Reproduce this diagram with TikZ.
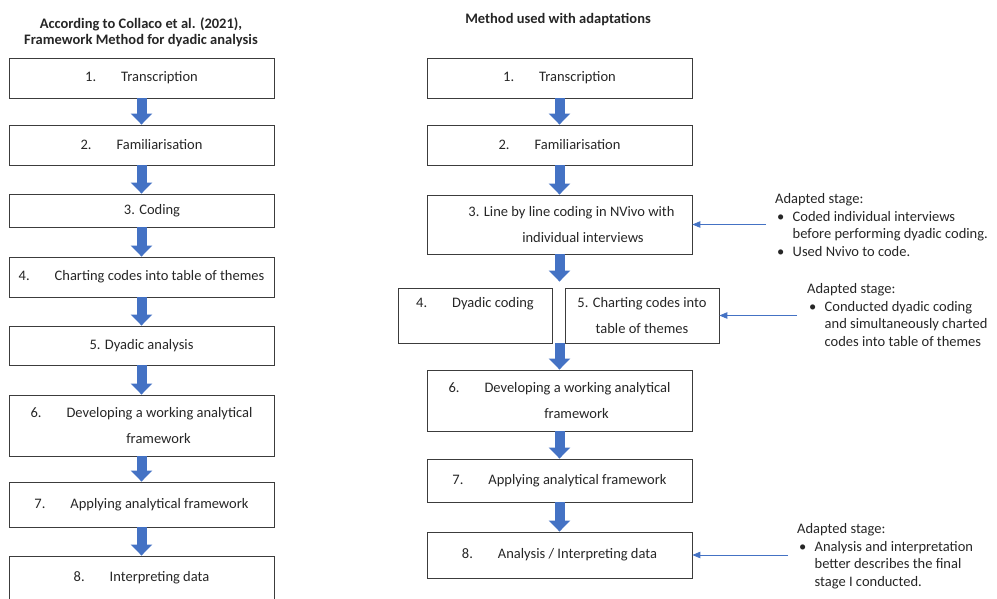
\documentclass[tikz,border=0pt]{standalone}
\usepackage{fontspec}
\setmainfont{Carlito}
\usetikzlibrary{arrows,arrows.meta}

\definecolor{stageblue}{RGB}{68,114,196}
\definecolor{boxgray}{RGB}{60,60,60}
\newcommand{\stagegap}{\hspace{25pt}}
\newcommand{\notebullet}{\hspace*{2pt}\makebox[15.5pt][l]{\textbullet}}
\newcommand{\noteindent}{\hspace*{17.5pt}}

\tikzset{
  stagebox/.style={draw=boxgray, line width=0.9pt, inner sep=0pt, align=center,
    minimum width=265pt, text=black!85, font=\fontsize{14.5}{25.5}\selectfont},
  flow/.style={stageblue, line width=10pt, -{Triangle[length=11pt,width=21pt]}},
  notelink/.style={stageblue, line width=0.8pt, ->},
  note/.style={anchor=north west, inner sep=0pt, align=left, text=black!85,
    font=\fontsize{14.5}{17.8}\selectfont},
  heading/.style={inner sep=0pt, align=center, text=black!85,
    font=\bfseries\fontsize{14.5}{16}\selectfont}
}

\begin{document}
\begin{tikzpicture}[x=1pt,y=-1pt,>=triangle 45]
    \clip (0,0) rectangle (997,598);
    \useasboundingbox (0,0) rectangle (997,598);

    % titles
    \node[heading] (titleL) at (141,32) {According to Collaco et al. (2021),\\Framework Method for dyadic analysis};
    \node[heading] (titleR) at (558,20) {Method used with adaptations};

    % original framework
    \node[stagebox, minimum height=40pt] (L1) at (141.5,78) {1.\stagegap Transcription};
    \node[stagebox, minimum height=40pt] (L2) at (141.5,145) {2.\stagegap Familiarisation};
    \node[stagebox, minimum height=33pt] (L3) at (141.5,210.5) {\hspace*{21pt}3. Coding};
    \node[stagebox, minimum height=40pt] (L4) at (141.5,277) {4.\stagegap Charting codes into table of themes};
    \node[stagebox, minimum height=39pt] (L5) at (141.5,345.5) {5. Dyadic analysis};
    \node[stagebox, minimum height=61pt] (L6) at (141.5,425.5) {6.\stagegap Developing a working analytical\\\hspace*{34pt}framework};
    \node[stagebox, minimum height=45pt] (L7) at (141.5,504.5) {7.\stagegap Applying analytical framework};
    \node[stagebox, minimum height=44pt] (L8) at (141.5,578) {8.\stagegap Interpreting data};

    % adapted method
    \node[stagebox, minimum height=40pt] (R1) at (559.5,78) {1.\stagegap Transcription};
    \node[stagebox, minimum height=40pt] (R2) at (559.5,145) {2.\stagegap Familiarisation};
    \node[stagebox, minimum height=59pt] (R3) at (559.5,224.5) {\hspace*{24pt}3. Line by line coding in NVivo with\\\hspace*{47pt}individual interviews};
    \node[stagebox, minimum width=154pt, minimum height=55pt] (R4) at (475,315.5) {4.\stagegap Dyadic coding\\~};
    \node[stagebox, minimum width=154pt, minimum height=55pt] (R5) at (642,315.5) {5. Charting codes into\\table of themes};
    \node[stagebox, minimum height=61pt] (R6) at (559.5,400.5) {6.\stagegap Developing a working analytical\\\hspace*{34pt}framework};
    \node[stagebox, minimum height=43pt] (R7) at (559.5,480.5) {7.\stagegap Applying analytical framework};
    \node[stagebox, minimum height=46pt] (R8) at (559.5,555) {8.\stagegap Analysis / Interpreting data};

    \foreach \a/\b in {L1/L2,L2/L3,L3/L4,L4/L5,L5/L6,L6/L7,L7/L8,R1/R2,R2/R3,R6/R7,R7/R8}
        \draw[flow] (\a.south) -- (\b.north);

    \coordinate (split) at (R3.south |- R4.north);
    \draw[flow] (R3.south) -- ([yshift=6pt]split);
    \draw[flow] (R3.south |- R4.south) -- (R6.north);

    % notes on the adapted stages
    \node[note] (note1) at (775,193) {Adapted stage:\\\notebullet Coded individual interviews\\\noteindent before performing dyadic coding.\\\notebullet Used Nvivo to code.};
    \node[note] (note2) at (807,283) {Adapted stage:\\\notebullet Conducted dyadic coding\\\noteindent and simultaneously charted\\\noteindent codes into table of themes};
    \node[note] (note3) at (797,523) {Adapted stage:\\\notebullet Analysis and interpretation\\\noteindent better describes the final\\\noteindent stage I conducted.};

    \draw[notelink, shorten <=9pt] (note1.west |- R3.east) -- (R3.east);
    \draw[notelink, shorten <=10pt] (note2.west |- R5.east) -- (R5.east);
    \draw[notelink, shorten <=9pt] (note3.west |- R8.east) -- (R8.east);
\end{tikzpicture}
\end{document}
